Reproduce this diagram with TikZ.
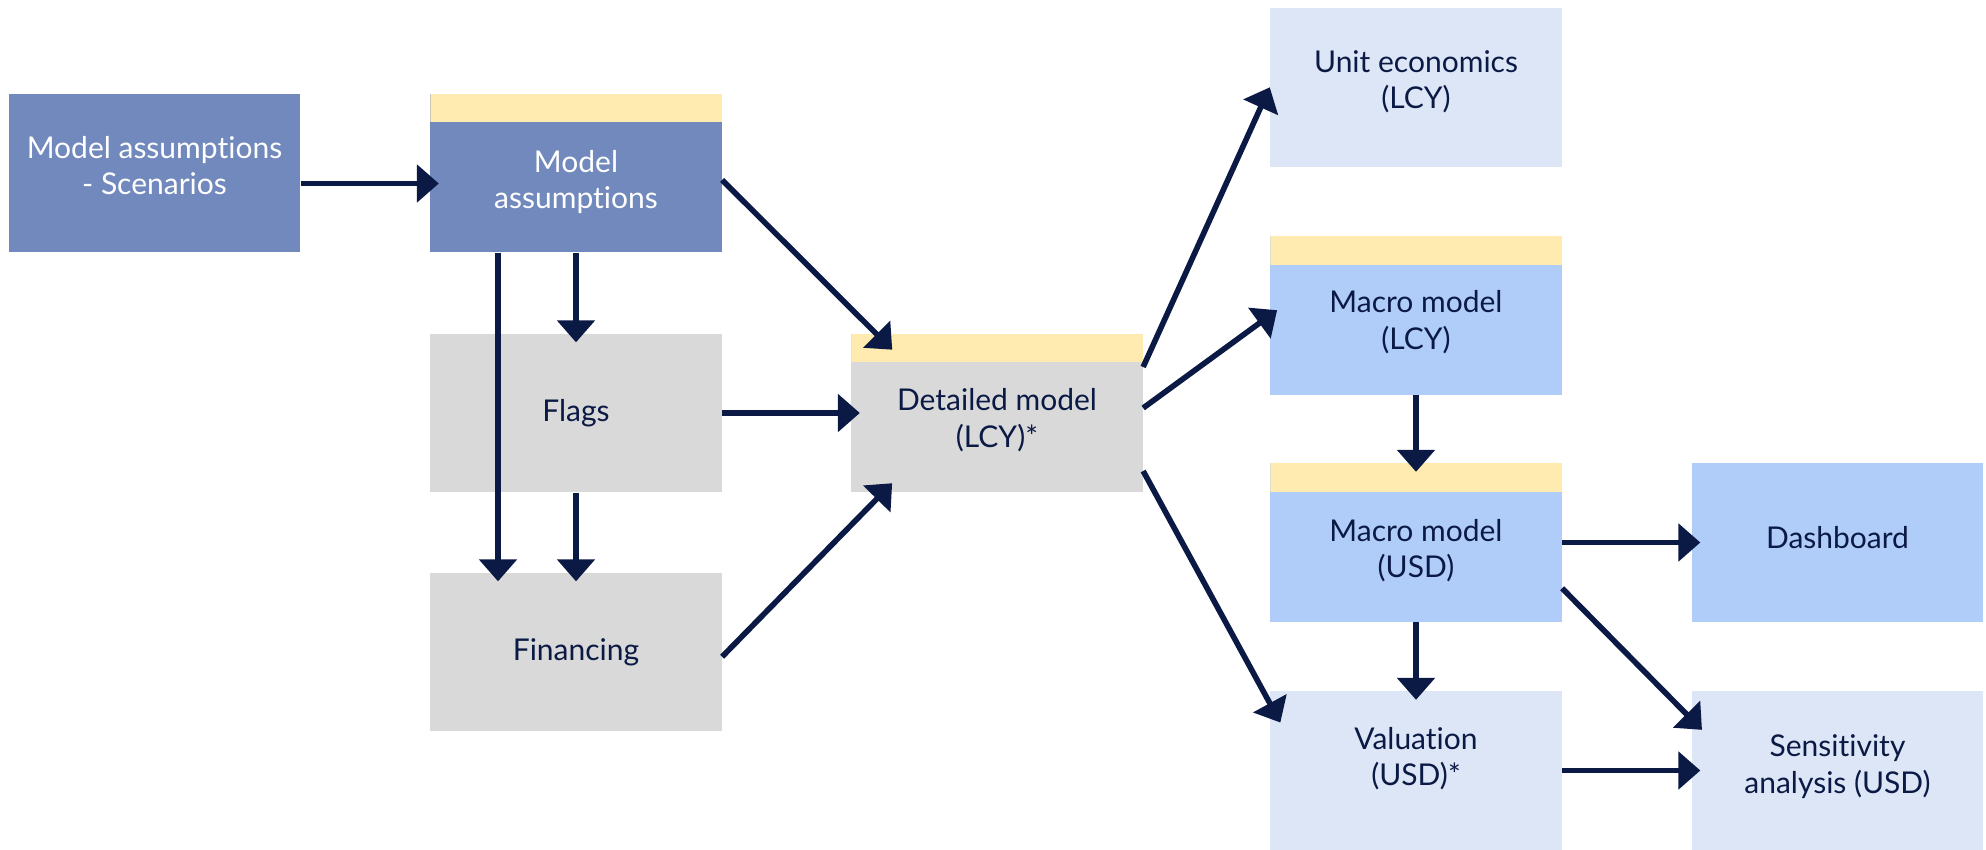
\documentclass[tikz,border=0pt]{standalone}
\usepackage{fontspec}
\setmainfont{Lato}[Ligatures=NoCommon]
\usetikzlibrary{arrows.meta}
\definecolor{navy}{HTML}{0B1A45}
\definecolor{slateblue}{HTML}{7189BC}
\definecolor{skyblue}{HTML}{B0CDFA}
\definecolor{paleblue}{HTML}{DCE6F6}
\definecolor{boxgray}{HTML}{D9D9D9}
\definecolor{band}{HTML}{FFEBB0}
\begin{document}
\begin{tikzpicture}[
  x=0.5pt, y=-0.5pt,
  box/.style={rectangle,minimum width=145.75pt,minimum height=79.25pt,inner sep=0pt},
  txt/.style={align=center,font=\fontsize{15}{18.3}\selectfont,text=navy},
  hdr/.style={path picture={\fill[band] (path picture bounding box.north west) rectangle ([yshift=-14.25pt]path picture bounding box.north east);}},
  arrow/.style={-{Triangle[length=11pt,width=18.5pt]},line width=2.8pt,navy,shorten >=-4.5pt}
]
\fill[white] (0,0) rectangle (1986,850);
\useasboundingbox (0,0) rectangle (1986,850);

\node[box,fill=slateblue,label={[txt,text=white,yshift=3.8pt]center:Model assumptions\\- Scenarios}] (scen) at (154.5,173) {};
\node[box,hdr,fill=slateblue,label={[txt,text=white,yshift=-4.5pt]center:Model\\assumptions}] (assum) at (576,173) {};
\node[box,fill=boxgray,label={[txt]center:Flags}] (flags) at (576,413) {};
\node[box,fill=boxgray,label={[txt]center:Financing}] (fin) at (576,652) {};
\node[box,hdr,fill=boxgray,label={[txt,yshift=-3.5pt]center:Detailed model\\(LCY)*}] (detail) at (997,413) {};
\node[box,fill=paleblue,label={[txt,yshift=2.8pt]center:Unit economics\\(LCY)}] (unit) at (1416,87.5) {};
\node[box,hdr,fill=skyblue,label={[txt,yshift=-3.2pt]center:Macro model\\(LCY)}] (macrolcy) at (1416,315.5) {};
\node[box,hdr,fill=skyblue,label={[txt,yshift=-4pt]center:Macro model\\(USD)}] (macrousd) at (1416,542.5) {};
\node[box,fill=skyblue,label={[txt,yshift=2.5pt]center:Dashboard}] (dash) at (1837.5,542.5) {};
\node[box,fill=paleblue,label={[txt,yshift=6pt]center:Valuation\\(USD)*}] (val) at (1416,770.5) {};
\node[box,fill=paleblue,label={[txt,yshift=2pt]center:Sensitivity\\analysis (USD)}] (sens) at (1837.5,770.5) {};

\draw[arrow] ([yshift=-5.25pt]scen.east) -- ([yshift=-5.25pt]assum.west);
\draw[arrow] (assum) -- (flags);
\draw[arrow] ([xshift=-39pt]assum.south) -- ([xshift=-39pt]fin.north);
\draw[arrow] (flags) -- (fin);
\draw[arrow] ([yshift=-3.5pt]assum.east) -- ([xshift=17.5pt,yshift=-5pt]detail.north west);
\draw[arrow] (flags) -- (detail);
\draw[arrow] ([yshift=-2.35pt]fin.east) -- ([xshift=17.5pt,yshift=1.5pt]detail.south west);
\draw[arrow] ([yshift=23pt]detail.east) -- ([xshift=-1.9pt,yshift=-4pt]unit.west);
\draw[arrow] ([yshift=2.5pt]detail.east) -- (macrolcy.west);
\draw[arrow] ([yshift=-29pt]detail.east) -- ([xshift=3.1pt,yshift=-11.9pt]val.north west);
\draw[arrow] (macrolcy) -- (macrousd);
\draw[arrow] (macrousd) -- (dash);
\draw[arrow] ([yshift=-22.9pt]macrousd.east) -- ([xshift=2.15pt,yshift=-16.3pt]sens.north west);
\draw[arrow] (macrousd) -- (val);
\draw[arrow] (val) -- (sens);
\end{tikzpicture}
\end{document}
